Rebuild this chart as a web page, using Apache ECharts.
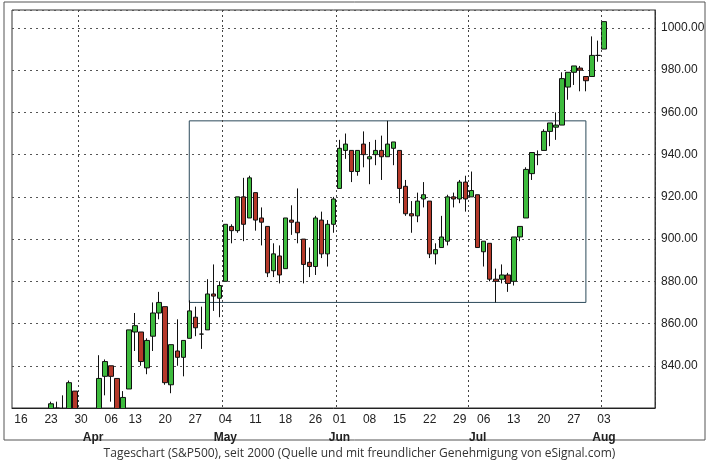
<!DOCTYPE html><html><head><meta charset="utf-8">
<script src="https://cdn.jsdelivr.net/npm/echarts@6/dist/echarts.min.js"></script>
<style>html,body{margin:0;background:#fff}#c{width:719px;height:475px}</style></head><body><div id="c"></div>
<script>
const dates=['','03-16','03-17','03-18','03-19','03-20','03-23','03-24','03-25','03-26','03-27','03-30','03-31',
'04-01','04-02','04-03','04-06','04-07','04-08','04-09','04-13','04-14','04-15','04-16','04-17','04-20','04-21','04-22','04-23','04-24','04-27','04-28','04-29','04-30',
'05-01','05-04','05-05','05-06','05-07','05-08','05-11','05-12','05-13','05-14','05-15','05-18','05-19','05-20','05-21','05-22','05-26','05-27','05-28','05-29',
'06-01','06-02','06-03','06-04','06-05','06-08','06-09','06-10','06-11','06-12','06-15','06-16','06-17','06-18','06-19','06-22','06-23','06-24','06-25','06-26','06-29','06-30',
'07-01','07-02','07-06','07-07','07-08','07-09','07-10','07-13','07-14','07-15','07-16','07-17','07-20','07-21','07-22','07-23','07-24','07-27','07-28','07-29','07-30','07-31',
'08-03','e1','e2','e3','e4','e5','e6','e7','e8'];
// open, close, low, high
const open =[null,758,753,776,797,784,772,820,807,814,828,809,790,793,814,835,840,834,816,829,856,856,839,854,865,868,831,847,844,853,863,855,857,874,872,880,906,904,920,910,922,910,906,885,892,886,909,908,900,889,887,909,893,907,924,942,942,932,945,938,940,942,939,943,942,925,912,911,919,918,893,896,899,920,919,927,920,921,894,898,881,881,883,880,901,910,931,940,942,951,953,954,972,979,981,977,977,987,990];
const close=[null,753,778,794,784,768,822,806,813,832,816,787,798,811,834,842,835,816,825,857,859,842,852,865,870,832,850,844,852,866,858,855,874,873,878,907,904,920,907,929,909,908,884,893,883,910,908,903,888,887,910,893,907,919,943,945,932,942,940,939,942,939,945,946,924,912,911,918,921,893,895,901,920,919,927,919,923,896,899,881,880,883,879,901,906,933,941,940,951,955,954,976,979,982,980,975,987,987,1003];
const low  =[null,751,749,770,781,764,772,805,799,814,813,779,790,791,814,826,823,814,814,829,847,840,836,847,862,831,827,840,835,853,854,848,857,866,863,880,898,903,899,910,904,897,882,882,879,886,902,898,879,882,883,891,887,903,924,938,927,930,934,926,935,928,939,935,917,911,903,908,915,891,888,896,897,915,917,913,920,896,887,880,870,879,875,878,899,910,928,935,942,944,947,954,966,973,970,970,977,984,990];
const high =[null,774,778,803,803,788,823,823,826,833,828,809,810,811,845,843,840,834,828,857,865,856,853,870,875,868,850,862,852,871,868,868,881,888,880,907,907,920,929,930,922,915,906,898,897,910,916,924,900,896,911,913,909,920,947,950,942,942,951,946,947,949,956,946,942,928,918,922,927,918,898,911,921,922,928,930,932,921,899,898,886,888,884,901,906,934,941,942,952,955,960,979,979,982,982,977,996,994,1003];
const weekLabels=['03-16','03-23','03-30','04-06','04-13','04-20','04-27','05-04','05-11','05-18','05-26','06-01','06-08','06-15','06-22','06-29','07-06','07-13','07-20','07-27','08-03'];
const monthStarts={'04-01':'Apr','05-04':'May','06-01':'Jun','07-02':'Jul','08-03':'Aug'};
const gridLines=['03-30','05-04','06-01','07-01','08-03'];
const ohlc=dates.map((d,i)=>i<open.length&&open[i]!=null?[open[i],close[i],low[i],high[i]]:'-');
const chart=echarts.init(document.getElementById('c'));
chart.setOption({
 animation:false,
 grid:{left:12,right:64,top:10,bottom:67,show:true,borderColor:'#333',borderWidth:1},
 graphic:[{type:'rect',shape:{x:4,y:2,width:701,height:438},style:{fill:'none',stroke:'#555',lineWidth:1},z:6},
   {type:'rect',shape:{x:13,y:409,width:640,height:66},style:{fill:'#fff'},z:5},
   {type:'text',left:'center',top:448,z:10,style:{text:'Tageschart (S&P500), seit 2000 (Quelle und mit freundlicher Genehmigung von eSignal.com)',font:'12px "Open Sans"',fill:'#333'}}],
 xAxis:[{type:'category',data:dates,z:10,axisLine:{lineStyle:{color:'#222'}},axisTick:{show:false},
   axisLabel:{interval:(i,v)=>weekLabels.includes(v),formatter:v=>v.slice(3),color:'#222',fontSize:12,fontFamily:'Arial',margin:6},
   splitLine:{show:true,interval:(i,v)=>gridLines.includes(v),lineStyle:{type:[2,3],color:'#444'}}},
  {type:'category',data:dates,position:'bottom',offset:16,z:10,axisLine:{show:false},axisTick:{show:false},
   axisLabel:{interval:(i,v)=>v in monthStarts,formatter:v=>monthStarts[v]||'',color:'#222',fontSize:12,fontWeight:'bold',fontFamily:'Arial'}}],
 yAxis:{type:'value',position:'right',min:820,max:1008.5,interval:20,
   axisLine:{show:true,lineStyle:{color:'#333'}},axisTick:{show:false},
   axisLabel:{showMaxLabel:false,formatter:v=>v===820?'':v.toFixed(2),color:'#222',fontSize:12,fontFamily:'Arial',margin:6},
   splitLine:{lineStyle:{type:[2,4],color:'#555'}}},
 series:[{type:'candlestick',data:ohlc,barWidth:5,
   itemStyle:{color:'#3dbb3d',color0:'#b5392a',borderColor:'#111',borderColor0:'#111',borderWidth:1},
   markArea:{silent:true,itemStyle:{color:'rgba(0,0,0,0)',borderColor:'#2c4a5a',borderWidth:1},
     data:[[{xAxis:'04-24',yAxis:956},{xAxis:'07-29',yAxis:870}]]}}]
});
</script></body></html>
